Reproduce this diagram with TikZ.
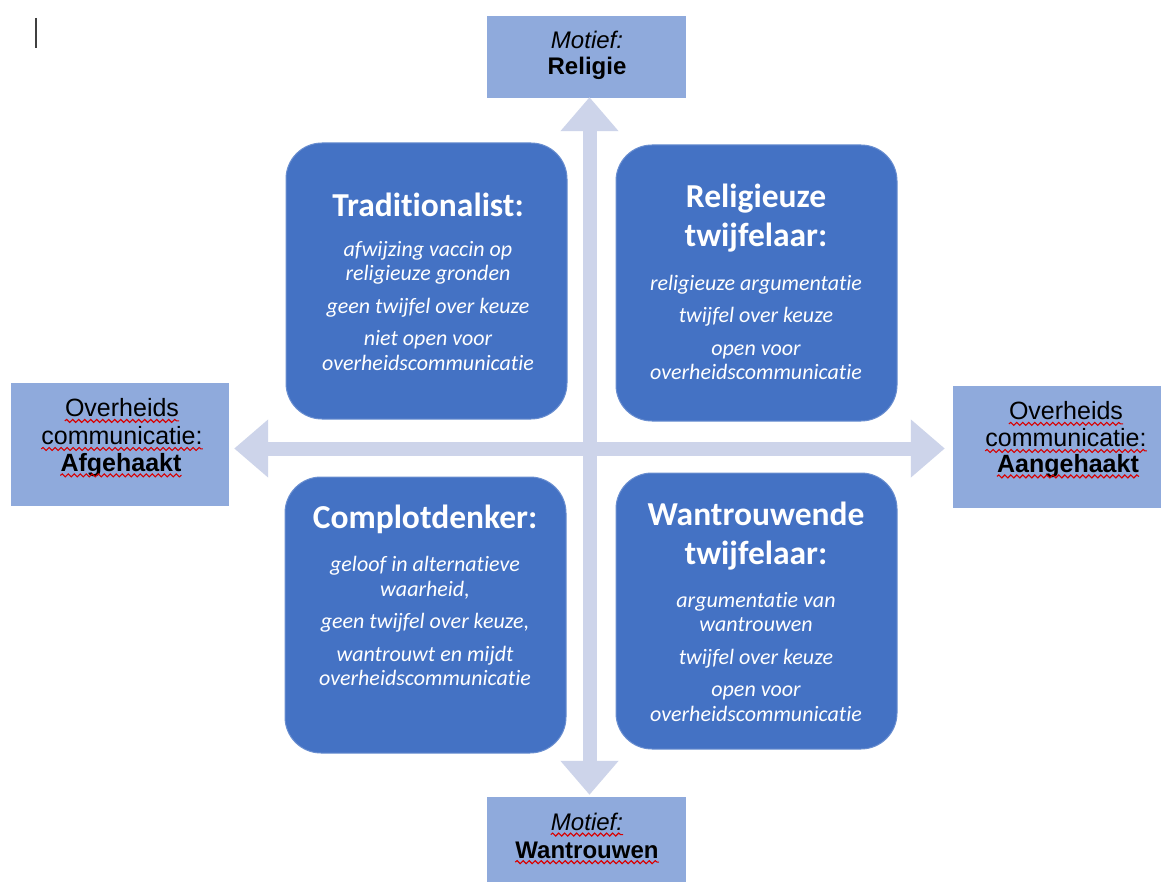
\documentclass[tikz,border=0pt]{standalone}
\usepackage{fontspec}
\setmainfont{Carlito}[Ligatures=NoCommon]
\newfontfamily\arialf{Liberation Sans}
\usetikzlibrary{arrows.meta,decorations.pathmorphing}
\definecolor{quadblue}{HTML}{4472C4}
\definecolor{axisfill}{HTML}{8FAADC}
\definecolor{axisarrow}{HTML}{CDD4EA}
\begin{document}
\begin{tikzpicture}[x=1pt,y=-1pt,
  quad/.style={fill=quadblue, draw=quadblue!80!white, line width=1pt, rounded corners=36pt, inner sep=0pt},
  axisbox/.style={fill=axisfill, draw=none, inner sep=0pt},
  ttl/.style={text=white, font=\fontsize{33.5}{39}\selectfont\bfseries, align=center, inner sep=0pt},
  body/.style={text=white, font=\fontsize{22}{24.5}\selectfont\itshape, align=center, inner sep=0pt},
  lbl/.style={font=\arialf\fontsize{25}{28}\selectfont, inner sep=0pt},
  lblb/.style={font=\arialf\bfseries\fontsize{25}{28}\selectfont, inner sep=0pt},
  tlbli/.style={font=\arialf\itshape\fontsize{24}{28}\selectfont, inner sep=0pt},
  tlblb/.style={font=\arialf\bfseries\fontsize{24}{28}\selectfont, inner sep=0pt},
  wavy/.style={draw=red!85!black, line width=1.1pt, decorate, decoration={snake, amplitude=1.5pt, segment length=6pt}},
  axis/.style={draw=axisarrow, line width=14pt, {Triangle[width=56pt,length=34pt]}-{Triangle[width=56pt,length=34pt]}}
]
\useasboundingbox (0,0) rectangle (1161,882);
\fill[white] (0,0) rectangle (1161,882);

% text cursor
\draw[line width=1.8pt, black!75] (36,18) -- (36,48);

% axis boxes
\node[axisbox, minimum width=199pt, minimum height=82pt] (top) at (586.5,57) {};
\node[axisbox, minimum width=199pt, minimum height=85pt] (bot) at (586.5,839.5) {};
\node[axisbox, minimum width=218pt, minimum height=123pt] (left) at (120,444.5) {};
\node[axisbox, minimum width=208pt, minimum height=122pt] (right) at (1057,447) {};

% axes
\coordinate (c) at (589.5,448.5);
\draw[axis, shorten <=-1pt, shorten >=2pt] (top.south -| c) -- (bot.north -| c);
\draw[axis, shorten <=5pt, shorten >=8pt] (left.east |- c) -- (right.west |- c);

% quadrant boxes
\node[quad, minimum width=281pt, minimum height=276pt] (tl) at (426.5,281) {};
\node[quad, minimum width=281pt, minimum height=276pt] (tr) at (756.5,283) {};
\node[quad, minimum width=281pt, minimum height=276pt] (bl) at (425.5,615) {};
\node[quad, minimum width=281pt, minimum height=276pt] (br) at (756.5,611) {};

% quadrant texts
\node[ttl] (tlt) at (428,205) {Traditionalist:};
\node[body] (tlb) at (428,306) {afwijzing vaccin op\\religieuze gronden\\[8pt]geen twijfel over keuze\\[8pt]niet open voor\\overheidscommunicatie};

\node[ttl] (trt) at (756,218.5) {Religieuze\\twijfelaar:};
\node[body] (trb) at (756,327.5) {religieuze argumentatie\\[8pt]twijfel over keuze\\[8pt]open voor\\overheidscommunicatie};

\node[ttl] (blt) at (425,519) {Complotdenker:};
\node[body] (blb) at (425,621) {geloof in alternatieve\\waarheid,\\[8pt]geen twijfel over keuze,\\[8pt]wantrouwt en mijdt\\overheidscommunicatie};

\node[ttl] (brt) at (756,536.5) {Wantrouwende\\twijfelaar:};
\node[body] (brb) at (756,657) {argumentatie van\\wantrouwen\\[8pt]twijfel over keuze\\[8pt]open voor\\overheidscommunicatie};

% axis labels
\node[tlbli] (tm) at (587,40) {Motief:};
\node[tlblb] (tr2) at (587,68) {Religie};

\node[tlbli] (bm) at (587,822) {Motief:};
\node[tlblb] (bw) at (587,850) {Wantrouwen};

\node[lbl] (lo1) at (122,408) {Overheids};
\node[lbl] (lo2) at (122,436) {communicatie:};
\node[lblb] (lo3) at (121,465) {Afgehaakt};

\node[lbl] (ro1) at (1066,411) {Overheids};
\node[lbl] (ro2) at (1066,438) {communicatie:};
\node[lblb] (ro3) at (1068,466) {Aangehaakt};

% spell-check underlines
\foreach \n in {bm,bw,lo1,lo2,lo3,ro1,ro2,ro3}{
  \draw[wavy] ([yshift=-4pt]\n.base west) -- ([yshift=-4pt]\n.base east);
}
\end{tikzpicture}
\end{document}
